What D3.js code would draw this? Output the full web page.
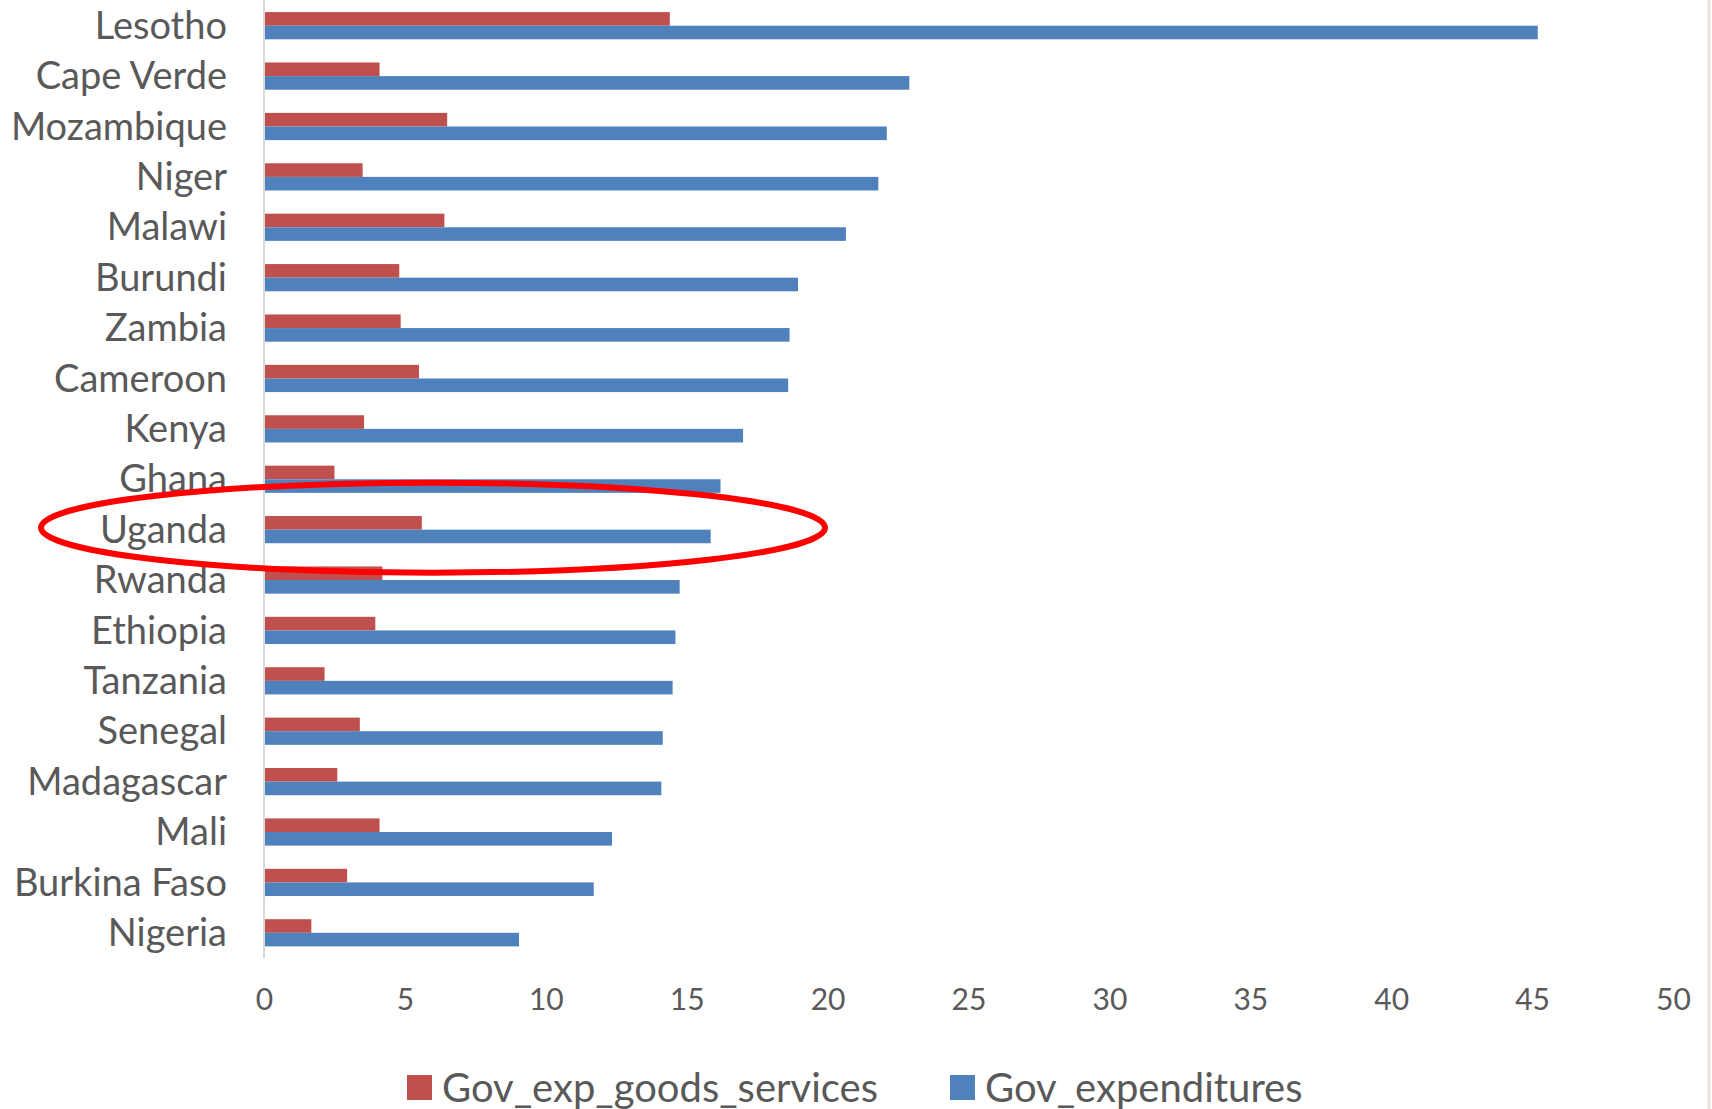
<!DOCTYPE html>
<html>
<head>
<meta charset="utf-8">
<script src="https://cdn.jsdelivr.net/npm/d3@7"></script>
<style>
  html, body { margin: 0; padding: 0; background: #ffffff; }
  svg { display: block; }
  text { font-family: Lato, "Open Sans", sans-serif; fill: #595959; }
</style>
</head>
<body>
<svg id="chart" width="1712" height="1109"></svg>
<script>
// Countries, top to bottom
const countries = [
  "Lesotho", "Cape Verde", "Mozambique", "Niger", "Malawi", "Burundi",
  "Zambia", "Cameroon", "Kenya", "Ghana", "Uganda", "Rwanda", "Ethiopia",
  "Tanzania", "Senegal", "Madagascar", "Mali", "Burkina Faso", "Nigeria"
];

// Government expenditure on goods & services (% of GDP)
const govExpGoodsServices = [
  14.4, 4.1, 6.5, 3.5, 6.4, 4.8, 4.85, 5.5, 3.55, 2.5,
  5.6, 4.2, 3.95, 2.15, 3.4, 2.6, 4.1, 2.95, 1.68
];

// Total government expenditures (% of GDP)
const govExpenditures = [
  45.2, 22.9, 22.1, 21.8, 20.65, 18.95, 18.65, 18.6, 17.0, 16.2,
  15.85, 14.75, 14.6, 14.5, 14.15, 14.1, 12.35, 11.7, 9.05
];

const seriesNames = ["Gov_exp_goods_services", "Gov_expenditures"];
const seriesColors = ["#C0504D", "#4F81BD"];
const xTicks = [0, 5, 10, 15, 20, 25, 30, 35, 40, 45, 50];
const highlighted = "Uganda";

const rows = countries.map((c, i) => ({
  country: c,
  values: [govExpGoodsServices[i], govExpenditures[i]]
}));

const svg = d3.select("#chart");

const plot = { left: 264, right: 1673, top: 0.5, bottom: 958 };

const x = d3.scaleLinear().domain([0, 50]).range([plot.left, plot.right]);

const y = d3.scaleBand()
  .domain(countries)
  .range([plot.top, plot.bottom])
  .paddingInner(0.46)
  .paddingOuter(0.23);

const ySub = d3.scaleBand()
  .domain([0, 1])
  .range([0, y.bandwidth()]);

// Bars
const groups = svg.append("g")
  .selectAll("g")
  .data(rows)
  .join("g")
  .attr("transform", d => `translate(0,${y(d.country)})`);

groups.selectAll("rect")
  .data(d => d.values.map((v, k) => ({ v, k })))
  .join("rect")
  .attr("x", x(0))
  .attr("y", d => ySub(d.k))
  .attr("width", d => x(d.v) - x(0))
  .attr("height", ySub.bandwidth())
  .attr("fill", d => seriesColors[d.k]);

// Vertical category axis line
svg.append("line")
  .attr("x1", x(0)).attr("x2", x(0))
  .attr("y1", 0).attr("y2", plot.bottom)
  .attr("stroke", "#D9D9D9")
  .attr("stroke-width", 2);

// Category labels
const yAxis = d3.axisLeft(y).tickSize(0).tickPadding(37);
const yG = svg.append("g").attr("transform", `translate(${x(0)},1)`).call(yAxis);
yG.select(".domain").remove();
yG.selectAll("text")
  .attr("font-size", 38)
  .attr("fill", "#595959")
  .style("font-family", "Lato, sans-serif");

// Value axis labels
const xAxis = d3.axisBottom(x).tickValues(xTicks).tickSize(0).tickPadding(0);
const xG = svg.append("g").attr("transform", `translate(0,999)`).call(xAxis);
xG.select(".domain").remove();
xG.selectAll("text")
  .attr("dy", "0.35em")
  .attr("font-size", 30)
  .attr("fill", "#595959")
  .style("font-family", "Lato, sans-serif");

// Highlight ring around one country
const hy = y(highlighted) + y.bandwidth() / 2;
svg.append("ellipse")
  .attr("cx", 433)
  .attr("cy", hy - 2)
  .attr("rx", 392)
  .attr("ry", 45)
  .attr("fill", "none")
  .attr("stroke", "#FF0000")
  .attr("stroke-width", 6);

// Legend
const legendItems = [
  { name: seriesNames[0], color: seriesColors[0], x: 407 },
  { name: seriesNames[1], color: seriesColors[1], x: 950 }
];
const legend = svg.append("g");
const li = legend.selectAll("g").data(legendItems).join("g")
  .attr("transform", d => `translate(${d.x},1075)`);
li.append("rect")
  .attr("width", 25).attr("height", 25)
  .attr("fill", d => d.color);
li.append("text")
  .attr("x", 35)
  .attr("y", 12.5)
  .attr("dy", "0.35em")
  .attr("font-size", 40)
  .text(d => d.name);

// Right-hand frame edge
svg.append("line")
  .attr("x1", 1709).attr("x2", 1709)
  .attr("y1", 0).attr("y2", 1109)
  .attr("stroke", "#E7E2DD")
  .attr("stroke-width", 3);
</script>
</body>
</html>
